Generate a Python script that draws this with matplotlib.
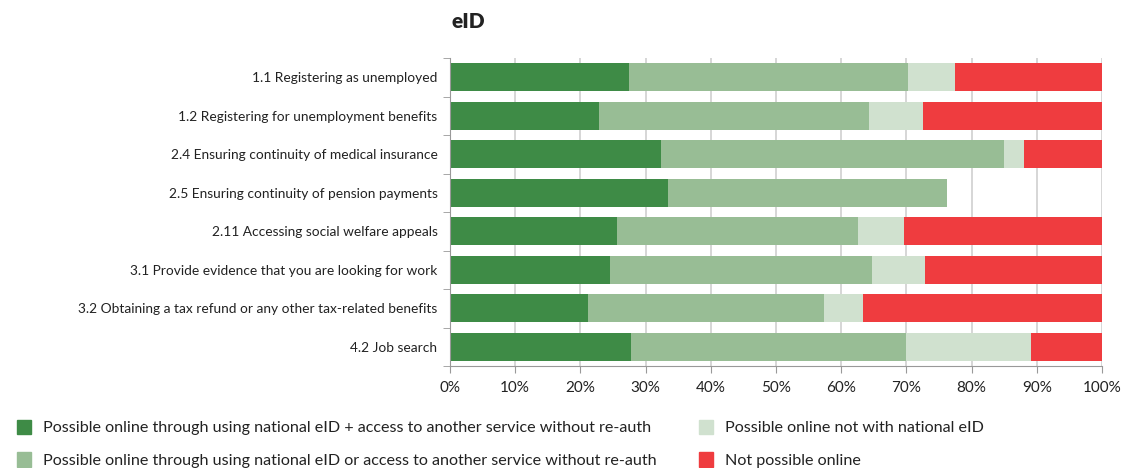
import matplotlib
matplotlib.use("Agg")
import matplotlib.pyplot as plt
from matplotlib.ticker import PercentFormatter, FixedLocator
from matplotlib.patches import Patch

plt.rcParams['font.family'] = ['Lato', 'DejaVu Sans']

services = [
    "1.1 Registering as unemployed",
    "1.2 Registering for unemployment benefits",
    "2.4 Ensuring continuity of medical insurance",
    "2.5 Ensuring continuity of pension payments",
    "2.11 Accessing social welfare appeals",
    "3.1 Provide evidence that you are looking for work",
    "3.2 Obtaining a tax refund or any other tax-related benefits",
    "4.2 Job search",
]

# shares in percent
eid_plus = [27.4, 22.8, 32.3, 33.4, 25.6, 24.5, 21.2, 27.7]
eid_or = [42.9, 41.5, 52.7, 42.9, 36.9, 40.2, 36.1, 42.3]
not_eid = [7.1, 8.3, 3.0, 0.0, 7.1, 8.1, 6.0, 19.1]
not_online = [22.6, 27.4, 12.0, 0.0, 30.4, 27.2, 36.7, 10.9]

series = [
    ("Possible online through using national eID + access to another service without re-auth", eid_plus, "#3e8b46"),
    ("Possible online through using national eID or access to another service without re-auth", eid_or, "#98bd95"),
    ("Possible online not with national eID", not_eid, "#d0e1cf"),
    ("Not possible online", not_online, "#ef3c3f"),
]

fig = plt.figure(figsize=(11.25, 4.68), dpi=100)
ax = fig.add_axes([450 / 1125, 1 - 366 / 468, 652 / 1125, 308 / 468])

ypos = list(range(len(services)))
left = [0.0] * len(services)
for name, vals, col in series:
    ax.barh(ypos, vals, left=left, height=0.74, color=col, edgecolor="none", zorder=2)
    left = [a + b for a, b in zip(left, vals)]

ax.set_xlim(0, 100)
ax.set_ylim(len(services) - 0.5, -0.5)
ax.set_yticks(ypos)
ax.set_yticklabels(services, fontsize=9.9, color="#222222")
ax.yaxis.set_minor_locator(FixedLocator([i - 0.5 for i in range(len(services) + 1)]))
ax.tick_params(axis="y", which="major", length=0, pad=9)
ax.tick_params(axis="y", which="minor", length=5, color="#999999")
ax.set_xticks(range(0, 101, 10))
ax.xaxis.set_major_formatter(PercentFormatter(decimals=0))
ax.tick_params(axis="x", length=5, color="#999999", labelsize=11, labelcolor="#222222", pad=6)
ax.grid(axis="x", color="#d0d0d0", linewidth=1.2, zorder=0)
ax.set_axisbelow(True)
for s in ["top", "right"]:
    ax.spines[s].set_visible(False)
for s in ["left", "bottom"]:
    ax.spines[s].set_color("#999999")

fig.text(452 / 1125, 1 - 22 / 468, "eID", fontsize=15, fontweight="heavy", color="#222222", va="center")

handles = [Patch(color=col, label=name) for name, vals, col in series]
fig.legend(handles=handles, loc="lower left", bbox_to_anchor=(0.002, -0.031), ncol=2,
           frameon=False, fontsize=11.6, handlelength=0.9, handleheight=1.0,
           columnspacing=2.6, labelspacing=1.05, handletextpad=0.75, labelcolor="#222222")

fig.savefig("out.png", dpi=100)
